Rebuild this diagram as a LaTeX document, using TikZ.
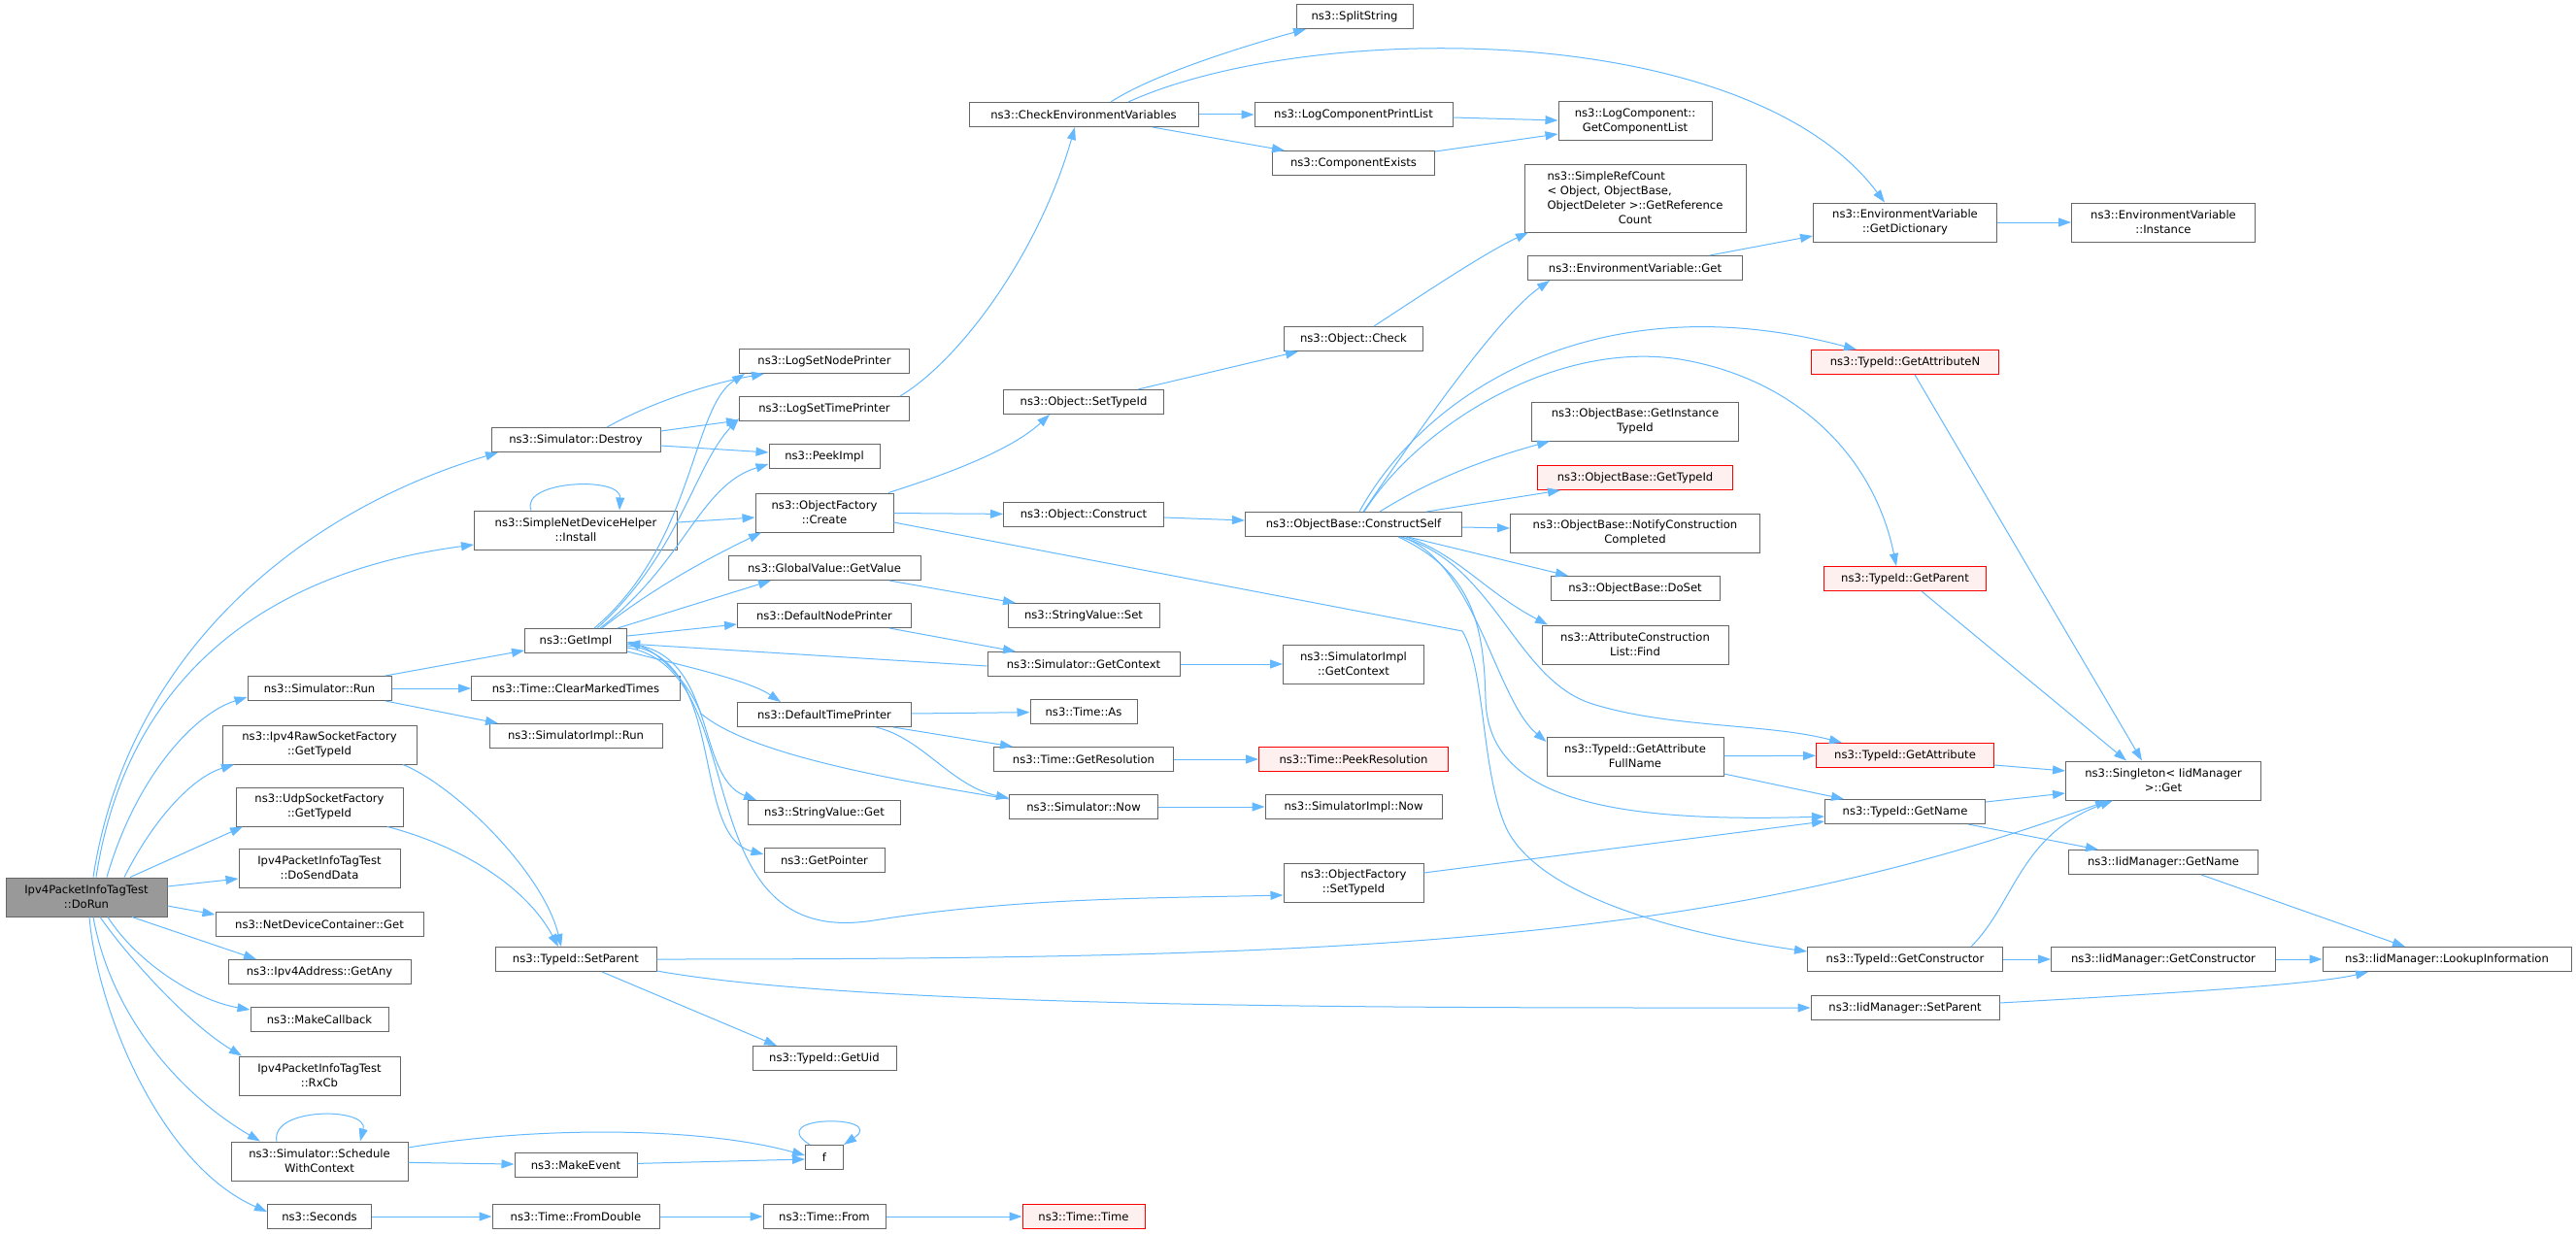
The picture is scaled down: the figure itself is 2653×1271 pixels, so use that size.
\documentclass[tikz,border=0pt]{standalone}
\usepackage{fontspec}
\setmainfont{DejaVu Sans}
\usetikzlibrary{arrows.meta}
\definecolor{edgeblue}{HTML}{63B8FF}
\definecolor{boxgray}{HTML}{666666}
\definecolor{rootgray}{HTML}{999999}
\definecolor{missred}{HTML}{FFF0F0}
\begin{document}
\begin{tikzpicture}[x=1pt,y=-1pt,>={Stealth[inset=0pt,length=13pt,width=9pt]},
  fnbox/.style={draw=boxgray,fill=white,line width=1pt,inner xsep=4pt,inner ysep=2pt,align=center,font=\fontsize{11.6}{15}\selectfont},
  fn/.style={fnbox,minimum height=25pt,minimum width=#1},
  fn2/.style={fnbox,minimum height=40pt,minimum width=#1},
  root/.style={fn2=#1,fill=rootgray},
  miss/.style={fn=#1,draw=red,fill=missred},
  callarrow/.style={draw=edgeblue,line width=1pt,->}]
	\useasboundingbox (0,0) rectangle (2653,1271);
	\node[root=166] (doRun) at (89,924) {Ipv4PacketInfoTagTest\\::DoRun}; % la fonction de depart
	% colonne 1
	\node[fn=148] (simRun) at (329,709) {ns3::Simulator::Run};
	\node[fn2=200] (rawTypeId) at (329,767) {ns3::Ipv4RawSocketFactory\\::GetTypeId};
	\node[fn2=172] (udpTypeId) at (329,831) {ns3::UdpSocketFactory\\::GetTypeId};
	\node[fn2=166] (sendData) at (329,894) {Ipv4PacketInfoTagTest\\::DoSendData};
	\node[fn=214] (ndcGet) at (329,952) {ns3::NetDeviceContainer::Get};
	\node[fn=188] (getAny) at (329,1001) {ns3::Ipv4Address::GetAny};
	\node[fn=142] (makeCb) at (329,1050) {ns3::MakeCallback};
	\node[fn2=166] (rxCb) at (329,1108) {Ipv4PacketInfoTagTest\\::RxCb};
	\node[fn2=182] (schedule) at (329,1196) {ns3::Simulator::Schedule\\WithContext};
	\node[fn=107] (seconds) at (329,1253) {ns3::Seconds};
	% colonne 2
	\node[fn=174] (destroy) at (593,453) {ns3::Simulator::Destroy};
	\node[fn2=209] (install) at (593,546) {ns3::SimpleNetDeviceHelper\\::Install};
	\node[fn=105] (getImpl) at (593,660) {ns3::GetImpl};
	\node[fn=215] (clearTimes) at (593,709) {ns3::Time::ClearMarkedTimes};
	\node[fn=178] (implRun) at (593,758) {ns3::SimulatorImpl::Run};
	\node[fn=166] (setParent) at (593,988) {ns3::TypeId::SetParent};
	\node[fn=126] (makeEvent) at (593,1200) {ns3::MakeEvent};
	\node[fn=172] (fromDouble) at (593,1253) {ns3::Time::FromDouble};
	% colonne 3
	\node[fn=175] (logNode) at (849,372) {ns3::LogSetNodePrinter};
	\node[fn=175] (logTime) at (849,421) {ns3::LogSetTimePrinter};
	\node[fn=114] (peekImpl) at (849,470) {ns3::PeekImpl};
	\node[fn2=142] (ofCreate) at (849,528) {ns3::ObjectFactory\\::Create};
	\node[fn=198] (gvGetValue) at (849,585) {ns3::GlobalValue::GetValue};
	\node[fn=179] (defNode) at (849,634) {ns3::DefaultNodePrinter};
	\node[fn=179] (defTime) at (849,736) {ns3::DefaultTimePrinter};
	\node[fn=157] (svGet) at (849,837) {ns3::StringValue::Get};
	\node[fn=124] (getPointer) at (849,886) {ns3::GetPointer};
	\node[fn=148] (getUid) at (849,1090) {ns3::TypeId::GetUid};
	\node[fn=39] (f) at (849,1192) {f};
	\node[fn=126] (timeFrom) at (849,1253) {ns3::Time::From};
	% colonne 4
	\node[fn=236] (checkEnv) at (1116,118) {ns3::CheckEnvironmentVariables};
	\node[fn=165] (objSetTypeId) at (1116,414) {ns3::Object::SetTypeId};
	\node[fn=165] (objConstruct) at (1116,530) {ns3::Object::Construct};
	\node[fn=156] (svSet) at (1116,634) {ns3::StringValue::Set};
	\node[fn=198] (simGetContext) at (1116,684) {ns3::Simulator::GetContext};
	\node[fn=110] (timeAs) at (1116,733) {ns3::Time::As};
	\node[fn=185] (getResolution) at (1116,782) {ns3::Time::GetResolution};
	\node[fn=153] (simNow) at (1116,831) {ns3::Simulator::Now};
	\node[miss=126] (timeTime) at (1116,1253) {ns3::Time::Time};
	% colonne 5
	\node[fn=120] (splitString) at (1395,17) {ns3::SplitString};
	\node[fn=204] (printList) at (1394,118) {ns3::LogComponentPrintList};
	\node[fn=167] (compExists) at (1394,168) {ns3::ComponentExists};
	\node[fn=143] (objCheck) at (1394,349) {ns3::Object::Check};
	\node[fn=223] (constructSelf) at (1394,540) {ns3::ObjectBase::ConstructSelf};
	\node[fn2=145] (implGetContext) at (1394,684) {ns3::SimulatorImpl\\::GetContext};
	\node[miss=195] (peekResolution) at (1394,782) {ns3::Time::PeekResolution};
	\node[fn=182] (implNow) at (1394,831) {ns3::SimulatorImpl::Now};
	\node[fn2=144] (ofSetTypeId) at (1394,909) {ns3::ObjectFactory\\::SetTypeId};
	% colonne 6
	\node[fn2=158] (getCompList) at (1684,125) {ns3::LogComponent::\\GetComponentList};
	\node[fn=228,minimum height=70pt,align=left] (refCount) at (1684,204) {ns3::SimpleRefCount\\< Object, ObjectBase,\\ObjectDeleter >::GetReference\\\setbox0\hbox{ObjectDeleter >::GetReference}\hbox to\wd0{\hfil Count\hfil}};
	\node[fn=221] (envGet) at (1684,276) {ns3::EnvironmentVariable::Get};
	\node[fn2=213] (instTypeId) at (1684,434) {ns3::ObjectBase::GetInstance\\TypeId};
	\node[miss=201] (obGetTypeId) at (1684,492) {ns3::ObjectBase::GetTypeId};
	\node[fn2=257] (notifyDone) at (1684,549) {ns3::ObjectBase::NotifyConstruction\\Completed};
	\node[fn=174] (doSet) at (1684,606) {ns3::ObjectBase::DoSet};
	\node[fn2=192] (attrFind) at (1684,664) {ns3::AttributeConstruction\\List::Find};
	\node[fn2=182] (attrFullName) at (1684,779) {ns3::TypeId::GetAttribute\\FullName};
	% colonne 7
	\node[fn2=189] (getDictionary) at (1962,229) {ns3::EnvironmentVariable\\::GetDictionary};
	\node[miss=193] (getAttrN) at (1962,373) {ns3::TypeId::GetAttributeN};
	\node[miss=167] (getParent) at (1962,596) {ns3::TypeId::GetParent};
	\node[miss=183] (getAttribute) at (1962,778) {ns3::TypeId::GetAttribute};
	\node[fn=165] (getName) at (1962,836) {ns3::TypeId::GetName};
	\node[fn=201] (getConstructor) at (1962,988) {ns3::TypeId::GetConstructor};
	\node[fn=194] (iidSetParent) at (1962,1038) {ns3::IidManager::SetParent};
	% colonnes 8 et 9
	\node[fn2=189] (envInstance) at (2228,229) {ns3::EnvironmentVariable\\::Instance};
	\node[fn2=201] (singletonGet) at (2228,804) {ns3::Singleton< IidManager\\>::Get};
	\node[fn=195] (iidGetName) at (2228,888) {ns3::IidManager::GetName};
	\node[fn=231] (iidGetConstructor) at (2228,988) {ns3::IidManager::GetConstructor};
	\node[fn=256] (lookupInfo) at (2520,988) {ns3::IidManager::LookupInformation};
	% appels de DoRun
	\draw[callarrow] ([xshift=7]doRun.north) .. controls (130,680) and (300,530) .. ([xshift=-80]destroy.south);
	\draw[callarrow] ([xshift=10]doRun.north) .. controls (130,700) and (270,590) .. ([yshift=-15]install.west);
	\draw[callarrow] ([xshift=21]doRun.north) .. controls (140,800) and (200,735) .. ([yshift=-9]simRun.west);
	\draw[callarrow] ([xshift=39]doRun.north) .. controls (160,840) and (200,800) .. ([xshift=-88]rawTypeId.south);
	\draw[callarrow] ([xshift=45]doRun.north) -- ([xshift=-79]udpTypeId.south);
	\draw[callarrow] ([yshift=11]doRun.east) -- ([yshift=-11]sendData.west);
	\draw[callarrow] ([yshift=-9]doRun.east) -- ([yshift=10]ndcGet.west);
	\draw[callarrow] ([xshift=47]doRun.south) -- ([xshift=-65]getAny.north);
	\draw[callarrow] ([xshift=22]doRun.south) .. controls (140,990) and (200,1030) .. ([yshift=10]makeCb.west);
	\draw[callarrow] ([xshift=14]doRun.south) .. controls (135,990) and (195,1055) .. ([xshift=-80]rxCb.north);
	\draw[callarrow] ([xshift=7]doRun.south) .. controls (115,1050) and (190,1130) .. ([xshift=-61]schedule.north);
	\draw[callarrow] ([xshift=3]doRun.south) .. controls (100,1040) and (165,1200) .. ([yshift=5]seconds.west);
	% colonne 1 vers la suite
	\draw[callarrow] ([xshift=68]simRun.north) -- ([yshift=-10]getImpl.west);
	\draw[callarrow] (simRun) -- (clearTimes);
	\draw[callarrow] ([xshift=68]simRun.south) -- ([xshift=-80]implRun.north);
	\draw[callarrow] ([xshift=86]rawTypeId.south) .. controls (470,810) and (560,900) .. ([xshift=-15]setParent.north);
	\draw[callarrow] ([xshift=70]udpTypeId.south) .. controls (470,870) and (540,910) .. ([xshift=-18]setParent.north);
	\draw[callarrow] ([xshift=-44]schedule.north) .. controls (278,1140) and (380,1140) .. ([xshift=42]schedule.north); % boucle
	\draw[callarrow] ([yshift=14]schedule.east) .. controls (550,1160) and (720,1160) .. ([yshift=2]f.west);
	\draw[callarrow] (schedule) -- (makeEvent);
	\draw[callarrow] (makeEvent) -- ([yshift=-2]f.west);
	\draw[callarrow] ([xshift=-15]f.north) .. controls (785,1148) and (915,1148) .. (f.north east); % boucle
	\draw[callarrow] (seconds) -- (fromDouble);
	\draw[callarrow] (fromDouble) -- (timeFrom);
	\draw[callarrow] (timeFrom) -- (timeTime);
	% colonne 2
	\draw[callarrow] ([xshift=32]destroy.north) .. controls (670,415) and (730,395) .. ([xshift=-62]logNode.south);
	\draw[callarrow] ([yshift=9]destroy.east) -- ([yshift=-12]logTime.west);
	\draw[callarrow] ([yshift=-6]destroy.east) -- ([yshift=4]peekImpl.west);
	\draw[callarrow] ([xshift=-46]install.north) .. controls (535,495) and (640,490) .. ([xshift=45]install.north); % boucle
	\draw[callarrow] ([yshift=8]install.east) -- ([yshift=-5]ofCreate.west);
	\draw[callarrow] ([xshift=19]getImpl.north) .. controls (715,560) and (712,420) .. ([xshift=-82]logNode.south);
	\draw[callarrow] ([xshift=22]getImpl.north) .. controls (700,570) and (715,480) .. ([yshift=-10]logTime.west);
	\draw[callarrow] ([xshift=25]getImpl.north) .. controls (705,580) and (720,500) .. ([yshift=-8]peekImpl.west);
	\draw[callarrow] ([xshift=27]getImpl.north) .. controls (680,600) and (740,570) .. ([xshift=-65]ofCreate.south);
	\draw[callarrow] ([xshift=43]getImpl.north) -- ([xshift=-55]gvGetValue.south);
	\draw[callarrow] ([yshift=5]getImpl.east) -- ([yshift=-9]defNode.west);
	\draw[callarrow] ([yshift=-11]getImpl.east) .. controls (700,685) and (770,700) .. ([xshift=-45]defTime.north);
	\draw[callarrow] ([yshift=-3]getImpl.east) .. controls (740,670) and (715,800) .. ([xshift=-70]svGet.north);
	\draw[callarrow] ([yshift=-5]getImpl.east) .. controls (750,675) and (710,860) .. ([yshift=6]getPointer.west);
	\draw[callarrow] ([yshift=-7]getImpl.east) .. controls (780,690) and (700,980) .. (900,948) .. controls (1050,924) and (1200,925) .. ([yshift=-13]ofSetTypeId.west);
	\draw[callarrow] ([yshift=-2]simGetContext.west) -- ([yshift=-3]getImpl.east); % retour
	\draw[callarrow] ([yshift=8]simNow.west) .. controls (900,800) and (770,775) .. (722,735) .. controls (710,705) and (680,672) .. ([yshift=-1]getImpl.east); % retour
	\draw[callarrow] ([xshift=27]setParent.south) -- ([xshift=-49]getUid.north);
	\draw[callarrow] (setParent.east) .. controls (1400,988) and (1771,971) .. ([xshift=-57]singletonGet.south);
	\draw[callarrow] ([yshift=-12]setParent.east) .. controls (900,1040) and (1500,1038) .. (iidSetParent.west);
	% colonne 3
	\draw[callarrow] ([xshift=78]logTime.north) .. controls (990,370) and (1070,260) .. ([xshift=-9]checkEnv.south);
	\draw[callarrow] ([xshift=66]ofCreate.north) .. controls (970,490) and (1040,465) .. ([xshift=-35]objSetTypeId.south);
	\draw[callarrow] (ofCreate) -- (objConstruct);
	\draw[callarrow] ([yshift=-10]ofCreate.east) -- (1506,650) .. controls (1530,690) and (1525,790) .. (1550,850) .. controls (1580,920) and (1720,960) .. ([yshift=8]getConstructor.west);
	\draw[callarrow] ([xshift=67]gvGetValue.south) -- ([xshift=-70]svSet.north);
	\draw[callarrow] ([xshift=67]defNode.south) -- ([xshift=-70]simGetContext.north);
	\draw[callarrow] (defTime) -- (timeAs);
	\draw[callarrow] ([xshift=71]defTime.south) -- ([xshift=-73]getResolution.north);
	\draw[callarrow] ([xshift=53]defTime.south) .. controls (950,760) and (980,810) .. ([yshift=9]simNow.west);
	% colonne 4
	\draw[callarrow] ([xshift=28]checkEnv.north) .. controls (1190,75) and (1290,45) .. ([xshift=-50]splitString.south);
	\draw[callarrow] (checkEnv) -- (printList);
	\draw[callarrow] ([xshift=71]checkEnv.south) -- ([xshift=-71]compExists.north);
	\draw[callarrow] ([xshift=46]checkEnv.north) .. controls (1350,20) and (1800,20) .. ([xshift=-21]getDictionary.north);
	\draw[callarrow] ([xshift=56]objSetTypeId.north) -- ([xshift=-57]objCheck.south);
	\draw[callarrow] (objConstruct) -- ([yshift=4]constructSelf.west);
	\draw[callarrow] (simGetContext) -- (implGetContext);
	\draw[callarrow] (getResolution) -- (peekResolution);
	\draw[callarrow] (simNow) -- (implNow);
	% colonne 5
	\draw[callarrow] ([yshift=-3]printList.east) -- ([yshift=1]getCompList.west);
	\draw[callarrow] ([yshift=12]compExists.east) -- ([yshift=-13]getCompList.west);
	\draw[callarrow] ([xshift=21]objCheck.north) .. controls (1470,300) and (1530,260) .. ([xshift=-110]refCount.south);
	\draw[callarrow] ([yshift=10]ofSetTypeId.east) -- ([yshift=-10]getName.west);
	\draw[callarrow] ([xshift=10]constructSelf.north) .. controls (1450,460) and (1540,328) .. ([xshift=-88]envGet.south);
	\draw[callarrow] ([xshift=6]constructSelf.north) .. controls (1470,400) and (1650,290) .. ([xshift=-50]getAttrN.north);
	\draw[callarrow] ([xshift=11]constructSelf.north) .. controls (1460,440) and (1600,350) .. (1730,370) .. controls (1850,390) and (1930,470) .. ([xshift=-9]getParent.north);
	\draw[callarrow] ([xshift=27]constructSelf.north) .. controls (1480,490) and (1540,470) .. ([xshift=-88]instTypeId.south);
	\draw[callarrow] ([xshift=75]constructSelf.north) -- ([xshift=-77]obGetTypeId.south);
	\draw[callarrow] ([yshift=-3]constructSelf.east) -- ([yshift=5]notifyDone.west);
	\draw[callarrow] ([xshift=56]constructSelf.south) -- ([xshift=-69]doSet.north);
	\draw[callarrow] ([xshift=54]constructSelf.south) .. controls (1500,570) and (1530,610) .. ([xshift=-90]attrFind.north);
	\draw[callarrow] ([xshift=50]constructSelf.south) .. controls (1520,580) and (1540,720) .. ([yshift=15]attrFullName.west);
	\draw[callarrow] ([xshift=48]constructSelf.south) .. controls (1540,580) and (1560,700) .. (1640,725) .. controls (1720,750) and (1820,745) .. ([xshift=-65]getAttribute.north);
	\draw[callarrow] ([xshift=46]constructSelf.south) .. controls (1520,590) and (1528,650) .. (1530,720) .. controls (1532,820) and (1650,848) .. ([yshift=-5]getName.west);
	% colonnes 6 a 9
	\draw[callarrow] ([xshift=77]envGet.north) -- ([yshift=-14]getDictionary.west);
	\draw[callarrow] (getDictionary) -- (envInstance);
	\draw[callarrow] (attrFullName) -- (getAttribute);
	\draw[callarrow] ([yshift=-18]attrFullName.east) -- ([xshift=-63]getName.north);
	\draw[callarrow] ([xshift=10]getAttrN.south) -- ([xshift=-22]singletonGet.north);
	\draw[callarrow] ([xshift=17]getParent.south) -- ([xshift=-38]singletonGet.north);
	\draw[callarrow] ([yshift=-10]getAttribute.east) -- ([yshift=10]singletonGet.west);
	\draw[callarrow] ([yshift=10]getName.east) -- ([yshift=-13]singletonGet.west);
	\draw[callarrow] ([xshift=65]getName.south) -- ([xshift=-67]iidGetName.north);
	\draw[callarrow] ([xshift=39]iidGetName.south) -- ([xshift=-43]lookupInfo.north);
	\draw[callarrow] ([xshift=68]getConstructor.north) .. controls (2075,930) and (2080,860) .. ([xshift=-52]singletonGet.south);
	\draw[callarrow] (getConstructor) -- (iidGetConstructor);
	\draw[callarrow] (iidGetConstructor) -- (lookupInfo);
	\draw[callarrow] ([yshift=5]iidSetParent.east) .. controls (2200,1025) and (2380,1015) .. ([xshift=-81]lookupInfo.south);
\end{tikzpicture}
\end{document}
